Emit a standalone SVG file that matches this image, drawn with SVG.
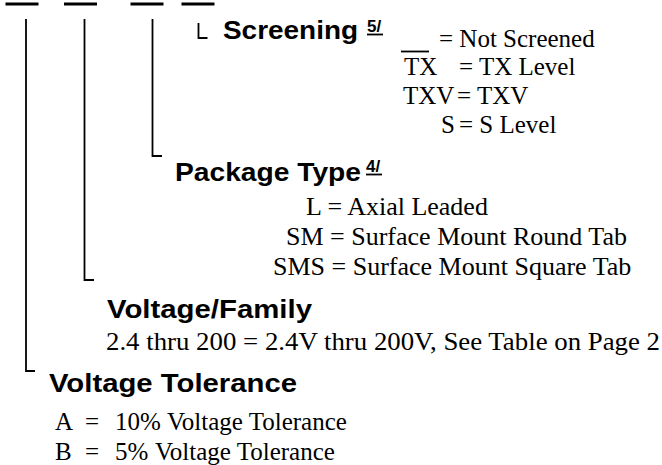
<svg xmlns="http://www.w3.org/2000/svg" width="662" height="465" viewBox="0 0 662 465">
<style>
.h{font-family:"Liberation Sans",Arial,sans-serif;font-weight:bold;font-size:25px;fill:#000}
.t{font-family:"Liberation Serif","Times New Roman",serif;font-size:26px;fill:#000}
.q{font-family:"Liberation Serif","Times New Roman",serif;font-size:25px;fill:#000}
.s{font-family:"Liberation Serif","Times New Roman",serif;font-size:25px;fill:#000}
.sup{font-family:"Liberation Sans",Arial,sans-serif;font-weight:bold;font-size:17px;fill:#000}
.ln{stroke:#000;stroke-width:1.8;fill:none}
.bar{fill:#000}
</style>
<rect width="662" height="465" fill="#fff"/>
<g id="bars">
<rect class="bar" x="5.5" y="2.5" width="33" height="3"/>
<rect class="bar" x="64" y="2.5" width="33" height="3"/>
<rect class="bar" x="130.5" y="2.5" width="33" height="3"/>
<rect class="bar" x="181.5" y="2.5" width="33" height="3"/>
</g>
<g id="connectors">
<path class="ln" d="M26 19 V371 H35"/>
<path class="ln" d="M84.5 19 V280 H94"/>
<path class="ln" d="M152.5 19 V156 H162"/>
<path class="ln" d="M198.5 23 V38 H207.5"/>
</g>
<g id="screening">
<text class="h" x="223" y="39" textLength="135" lengthAdjust="spacingAndGlyphs">Screening</text>
<text class="sup" x="367" y="32">5/</text>
<line class="ln" x1="367" y1="34.5" x2="383" y2="34.5" stroke-width="1.6"/>
<line class="ln" x1="401" y1="51.5" x2="429" y2="51.5"/>
<text class="q" x="439" y="47">= Not Screened</text>
<text class="q" x="404" y="75">TX</text>
<text class="q" x="459" y="75">= TX Level</text>
<text class="q" x="403" y="104">TXV</text>
<text class="q" x="457" y="104">= TXV</text>
<text class="q" x="441" y="133">S</text>
<text class="q" x="459" y="133">= S Level</text>
</g>
<g id="package">
<text class="h" x="175" y="181" textLength="186" lengthAdjust="spacingAndGlyphs">Package Type</text>
<text class="sup" x="366" y="172">4/</text>
<line class="ln" x1="366" y1="174.5" x2="382" y2="174.5" stroke-width="1.6"/>
<text class="t" x="306" y="215">L = Axial Leaded</text>
<text class="t" x="286" y="245">SM = Surface Mount Round Tab</text>
<text class="t" x="273" y="275">SMS = Surface Mount Square Tab</text>
</g>
<g id="voltage-family">
<text class="h" x="107" y="318" textLength="205" lengthAdjust="spacingAndGlyphs">Voltage/Family</text>
<text class="t" x="106" y="350" textLength="554" lengthAdjust="spacingAndGlyphs">2.4 thru 200 = 2.4V thru 200V, See Table on Page 2</text>
</g>
<g id="voltage-tolerance">
<text class="h" x="49" y="392" textLength="248" lengthAdjust="spacingAndGlyphs">Voltage Tolerance</text>
<text class="s" y="430"><tspan x="55">A</tspan><tspan x="85">=</tspan><tspan x="115">10%</tspan><tspan x="167">Voltage Tolerance</tspan></text>
<text class="s" y="460"><tspan x="55">B</tspan><tspan x="85">=</tspan><tspan x="115">5%</tspan><tspan x="155">Voltage Tolerance</tspan></text>
</g>
</svg>
